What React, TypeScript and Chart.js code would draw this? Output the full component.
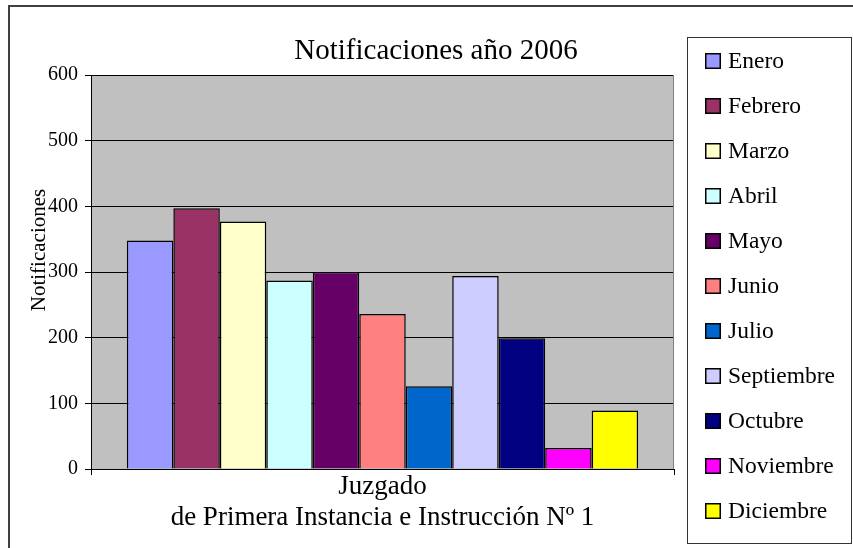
import { useEffect, useRef } from "react";
import { Chart, registerables } from "chart.js";

Chart.register(...registerables);

const chartTitle = "Notificaciones año 2006";
const yAxisTitle = "Notificaciones";
const categoryLabel = ["Juzgado", "de Primera Instancia e Instrucción Nº 1"];
const months = ["Enero", "Febrero", "Marzo", "Abril", "Mayo", "Junio", "Julio", "Septiembre", "Octubre", "Noviembre", "Diciembre"];
const values = [348, 397, 377, 287, 300, 236, 126, 294, 199, 32, 89];
const colors = ["#9999FF", "#993366", "#FFFFCC", "#CCFFFF", "#660066", "#FF8080", "#0066CC", "#CCCCFF", "#000080", "#FF00FF", "#FFFF00"];
const yMin = 0;
const yMax = 600;
const yStep = 100;

const W = 853;
const H = 548;
const PLOT_L = 91;
const PLOT_R = 674;
const PLOT_B = 469;
const PAD_L = 19;
const PAD_TOP = 24;
const FONT = '"Liberation Serif", "Times New Roman", serif';

const LEG_FONT = 23.5;
const LEG_BOX = 16;
const LEG_BOX_X = 705;
const LEG_TEXT_X = 728;
const LEG_Y0 = 60.5;
const LEG_STEP = 45;

const YT_FONT = 21;
const YT_X = 39;
const YT_Y = 250;

const decor = {
  id: "decor",
  beforeDraw(chart: any) {
    const { ctx, chartArea: a } = chart;
    ctx.save();
    ctx.fillStyle = "#C0C0C0";
    ctx.fillRect(a.left, a.top, a.right - a.left, a.bottom - a.top);
    ctx.restore();
  },
  afterDraw(chart: any) {
    const { ctx, chartArea: a } = chart;
    ctx.save();
    // plot area right border
    ctx.strokeStyle = "#808080";
    ctx.lineWidth = 1;
    ctx.beginPath();
    ctx.moveTo(a.right - 0.5, a.top);
    ctx.lineTo(a.right - 0.5, a.bottom);
    ctx.stroke();

    // y axis title
    ctx.save();
    ctx.translate(YT_X, YT_Y);
    ctx.rotate(-Math.PI / 2);
    ctx.font = `${YT_FONT}px ${FONT}`;
    ctx.fillStyle = "#000";
    ctx.textAlign = "center";
    ctx.textBaseline = "middle";
    ctx.fillText(yAxisTitle, 0, 0);
    ctx.restore();

    // legend
    ctx.font = `${LEG_FONT}px ${FONT}`;
    ctx.textAlign = "left";
    ctx.textBaseline = "middle";
    chart.data.datasets.forEach((ds: any, i: number) => {
      const cy = LEG_Y0 + i * LEG_STEP;
      const top = Math.round(cy - LEG_BOX / 2);
      ctx.fillStyle = ds.backgroundColor;
      ctx.fillRect(LEG_BOX_X, top, LEG_BOX, LEG_BOX);
      ctx.strokeStyle = "#000";
      ctx.lineWidth = 1.5;
      ctx.strokeRect(LEG_BOX_X + 0.75, top + 0.75, LEG_BOX - 1.5, LEG_BOX - 1.5);
      ctx.fillStyle = "#000";
      ctx.fillText(ds.label, LEG_TEXT_X, cy + 1.5);
    });
    ctx.lineWidth = 1;
    ctx.strokeStyle = "#333333";
    ctx.strokeRect(687.5, 37.5, 164, 506);

    // outer frame
    ctx.strokeStyle = "#404040";
    ctx.lineWidth = 2;
    ctx.strokeRect(9, 6, 900, 600);
    ctx.restore();
  },
};

export default function App() {
  const ref = useRef<HTMLCanvasElement>(null);

  useEffect(() => {
    if (!ref.current) return;
    const chart = new Chart(ref.current, {
      type: "bar",
      data: {
        labels: [categoryLabel],
        datasets: months.map((name, i) => ({
          label: name,
          data: [values[i]],
          backgroundColor: colors[i],
          borderColor: "#000000",
          borderWidth: 1.5,
          categoryPercentage: 0.877,
          barPercentage: 1,
        })),
      },
      options: {
        animation: false,
        responsive: false,
        devicePixelRatio: 1,
        layout: { padding: { left: PAD_L, right: 0, top: PAD_TOP, bottom: 0 } },
        plugins: {
          title: {
            display: true,
            text: chartTitle,
            color: "#000",
            font: { family: FONT, size: 29, weight: "normal", lineHeight: 1 },
            padding: { top: 13, bottom: 9 },
          },
          legend: { display: false },
          tooltip: { enabled: false },
        },
        scales: {
          x: {
            type: "category",
            grid: { display: true, offset: true, drawOnChartArea: false, drawTicks: true, tickLength: 6, color: "#000" },
            border: { display: true, color: "#000", width: 1 },
            ticks: {
              color: "#000",
              font: { family: FONT, size: 27, lineHeight: 1.148 },
              padding: -3.5,
              maxRotation: 0,
              autoSkip: false,
            },
            afterFit: (s: any) => {
              s.height = H - PLOT_B;
            },
          },
          y: {
            type: "linear",
            position: "left",
            min: yMin,
            max: yMax,
            ticks: {
              stepSize: yStep,
              color: "#000",
              font: { family: FONT, size: 20 },
              padding: 7,
            },
            grid: { color: "#000", lineWidth: 1, tickLength: 6, drawTicks: true },
            border: { display: true, color: "#000", width: 1 },
            title: { display: false },
            afterFit: (s: any) => {
              s.width = PLOT_L - PAD_L;
            },
          },
          yLegendSpace: {
            type: "linear",
            position: "right",
            display: true,
            grid: { display: false, drawTicks: false },
            border: { display: false },
            ticks: { display: false },
            afterFit: (s: any) => {
              s.width = W - PLOT_R;
            },
          },
        },
      },
      plugins: [decor],
    } as any);

    return () => chart.destroy();
  }, []);

  return (
    <canvas
      ref={ref}
      width={W}
      height={H}
      style={{ position: "fixed", left: 0, top: 0, width: W, height: H }}
    />
  );
}
